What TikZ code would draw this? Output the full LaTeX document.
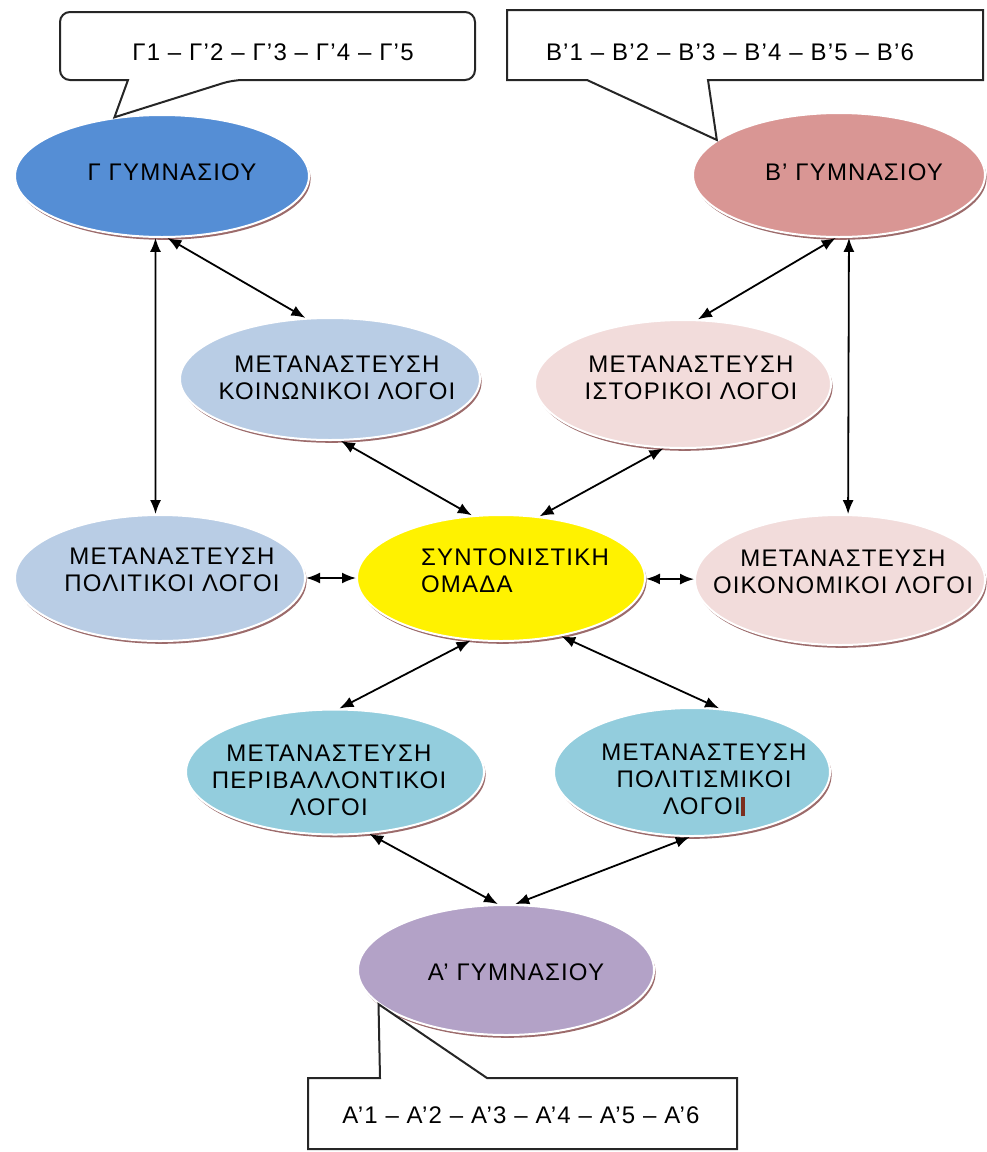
\documentclass[tikz,border=0pt]{standalone}
\usepackage{fontspec}
\setmainfont[LetterSpace=5]{Liberation Sans}
\usetikzlibrary{shapes.geometric,shadows,arrows.meta}

\definecolor{gamC}{HTML}{558ED5}
\definecolor{betC}{HTML}{D99694}
\definecolor{blueC}{HTML}{B9CDE5}
\definecolor{pinkC}{HTML}{F2DCDB}
\definecolor{cyanC}{HTML}{93CDDD}
\definecolor{alfC}{HTML}{B3A2C7}
\definecolor{shadC}{HTML}{9C6B6B}
\definecolor{curC}{HTML}{7B2E1E}

\tikzset{
  topic/.style={ellipse,draw=white,line width=1pt,inner sep=0pt,
    general shadow={shadow xshift=0.8pt,shadow yshift=-1.4pt,fill=shadC}},
  esize/.style 2 args={minimum width=#1*0.5pt,minimum height=#2*0.5pt},
  txt/.style={font=\fontsize{12}{13.5}\selectfont,align=center,text=black,inner sep=0pt},
  link/.style={<->,line width=0.9pt},
  bubble/.style={draw=black!85,line width=1pt,fill=white},
}

\begin{document}
\begin{tikzpicture}[x=0.5pt,y=-0.5pt,>={Latex[length=7pt,width=5.5pt]}]
  \useasboundingbox (0,0) rectangle (986,1152);

  \node[topic,fill=gamC,esize={294}{122},
        label={[txt,xshift=5pt,yshift=2pt]center:Γ ΓΥΜΝΑΣΙΟΥ}]                 (gym3) at (162,176) {};
  \node[topic,fill=betC,esize={292}{124},
        label={[txt,xshift=7.5pt,yshift=1.5pt]center:Β' ΓΥΜΝΑΣΙΟΥ}]           (gym2) at (839,175) {};
  \node[topic,fill=blueC,esize={300}{122},
        label={[txt,xshift=3.5pt,yshift=0.5pt]center:ΜΕΤΑΝΑΣΤΕΥΣΗ\\ΚΟΙΝΩΝΙΚΟΙ ΛΟΓΟΙ}] (koin) at (330,379) {};
  \node[topic,fill=pinkC,esize={296}{128},
        label={[txt,xshift=4pt,yshift=3pt]center:ΜΕΤΑΝΑΣΤΕΥΣΗ\\ΙΣΤΟΡΙΚΟΙ ΛΟΓΟΙ}]   (ist) at (683,384) {};
  \node[topic,fill=blueC,esize={290}{126},
        label={[txt,xshift=6pt,yshift=4pt]center:ΜΕΤΑΝΑΣΤΕΥΣΗ\\ΠΟΛΙΤΙΚΟΙ ΛΟΓΟΙ}]    (pol) at (160,578) {};
  \node[topic,fill=yellow,esize={288}{126},
        label={[txt,align=left,xshift=7pt,yshift=3.5pt]center:ΣΥΝΤΟΝΙΣΤΙΚΗ\\ΟΜΑΔΑ}] (syn) at (501,578) {};
  \node[topic,fill=pinkC,esize={290}{130},
        label={[txt,xshift=1.5pt,yshift=4pt]center:ΜΕΤΑΝΑΣΤΕΥΣΗ\\ΟΙΚΟΝΟΜΙΚΟΙ ΛΟΓΟΙ}] (oik) at (840,580) {};
  \node[topic,fill=cyanC,esize={298}{125},
        label={[txt,xshift=-3pt,yshift=-4pt]center:ΜΕΤΑΝΑΣΤΕΥΣΗ\\ΠΕΡΙΒΑΛΛΟΝΤΙΚΟΙ\\ΛΟΓΟΙ}] (per) at (335,772) {};
  \node[topic,fill=cyanC,esize={276}{128},
        label={[txt,xshift=6pt,yshift=-4pt]center:ΜΕΤΑΝΑΣΤΕΥΣΗ\\ΠΟΛΙΤΙΣΜΙΚΟΙ\\ΛΟΓΟΙ\textcolor{curC}{\rule[-1pt]{2pt}{9.5pt}}}] (polt) at (692,772) {};
  \node[topic,fill=alfC,esize={296}{130},
        label={[txt,xshift=5pt,yshift=-1pt]center:Α' ΓΥΜΝΑΣΙΟΥ}]              (gym1) at (506,970) {};

  \draw[link] (gym3.-96.5) -- (pol.94.5);
  \draw[link] (gym3.-85)   -- (koin.112.6);
  \draw[link] (gym2.-93.7) -- (ist.77.7);
  \draw[link] (gym2.-81.7) -- (oik.83);
  \draw[link] (koin.-80.7) -- (syn.115);
  \draw[link] (ist.-107)   -- (syn.58.7);
  \draw[link] (pol) -- (syn);
  \draw[link] (syn) -- (oik);
  \draw[link] (syn.-116.8) -- (per.86.4);
  \draw[link] (syn.-44.3)  -- (polt.67.7);
  \draw[link] (per.-61)    -- (gym1.97);
  \draw[link] (polt.-92)   -- (gym1.82);

  \draw[bubble] (128,80) [rounded corners=5pt] -- (60,80) -- (60,12) -- (475,12) -- (475,80)
    -- (233,80) [sharp corners] -- (gym3.129) -- cycle;
  \draw[bubble] (507,10) -- (983,10) -- (983,80) -- (708,80) -- (gym2.164) -- (587,80) -- (507,80) -- cycle;
  \draw[bubble] (308,1078) -- (380,1078) -- (gym1.-165) -- (487,1078) -- (737,1078) -- (737,1149)
    -- (308,1149) -- cycle;

  \node[txt] (gcall) at (273,52)   {Γ1 – Γ'2 – Γ'3 – Γ'4 – Γ'5};
  \node[txt] (bcall) at (730,52)   {Β'1 – Β'2 – Β'3 – Β'4 – Β'5 – Β'6};
  \node[txt] (acall) at (521,1115) {Α'1 – Α'2 – Α'3 – Α'4 – Α'5 – Α'6};
\end{tikzpicture}
\end{document}
